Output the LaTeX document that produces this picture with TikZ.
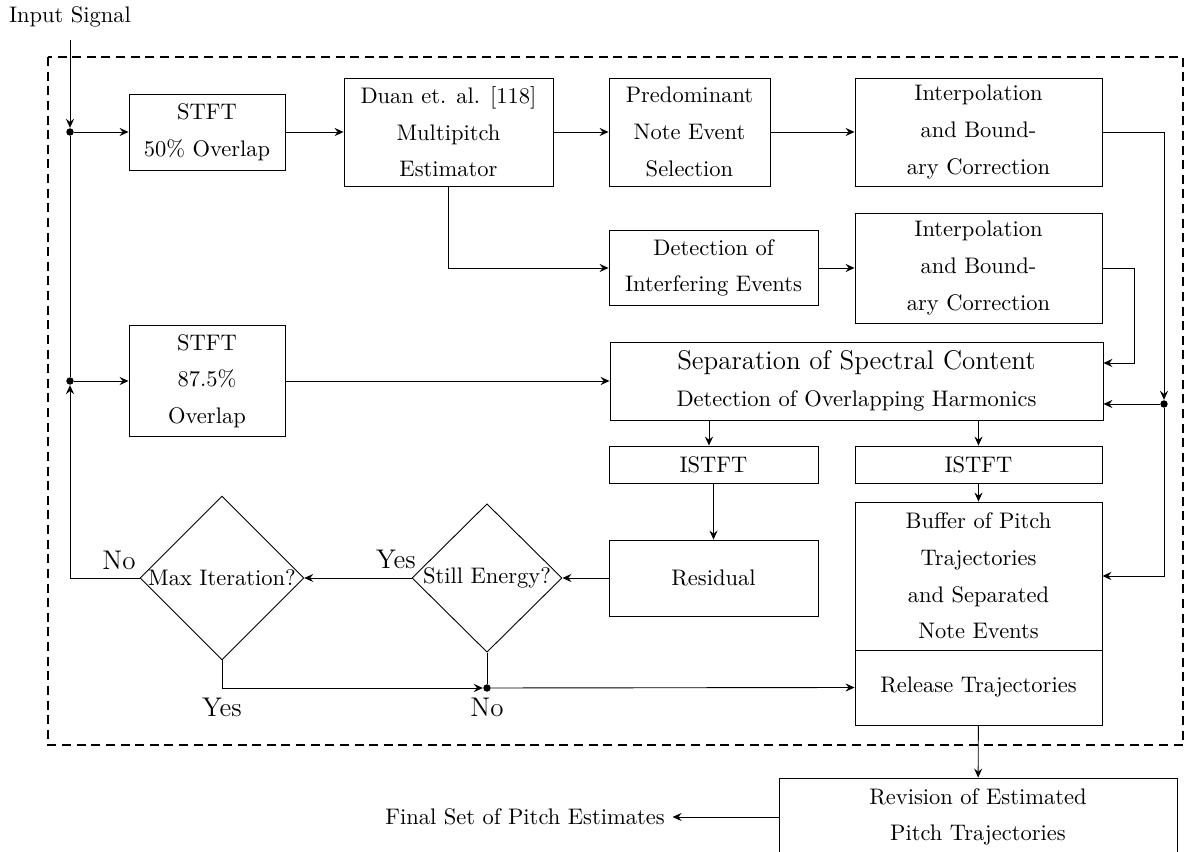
\documentclass[tikz,border=0pt]{standalone}
\usepackage{tikz}
\usetikzlibrary{arrows.meta,shapes.geometric,calc}
\newcommand{\pxu}{0.4444pt}

\begin{document}
\begin{tikzpicture}[
    x=\pxu, y=-\pxu,
    font={\fontsize{10}{16.3}\selectfont},
    box/.style={draw, align=center, inner sep=0pt},
    dec/.style={draw, diamond, aspect=1, inner sep=0pt, align=center},
    sz/.style 2 args={minimum width=#1*\pxu, minimum height=#2*\pxu},
    dot/.style={circle, fill, inner sep=0pt, minimum size=3.3pt},
    arr/.style={-{Stealth[length=4pt,width=3.6pt,inset=1.4pt]}},
    lbl/.style={font=\large}
  ]
  \useasboundingbox (0,0) rectangle (1186,852);

  \draw[line width=0.8pt, dash pattern=on 4pt off 2.5pt] (48,57) rectangle (1183,745);

  \node (insig) at (70,17) {Input Signal};
  \node[dot] (dot1) at (70,132) {};
  \node[dot] (dot2) at (70,381) {};
  \node[dot] (dot3) at (1164,404) {};
  \node[dot] (dot4) at (487,688) {};

  \node[box, sz={156}{76}] (stft1) at (207,132) {STFT\\50\% Overlap};
  \node[box, sz={209}{108}] (duan) at (448.5,132) {Duan et. al. [118]\\Multipitch\\Estimator};
  \node[box, sz={161}{108}] (pred) at (689.5,132) {Predominant\\Note Event\\Selection};
  \node[box, sz={247}{108}] (interp1) at (978.5,132) {Interpolation\\and Bound-\\ary Correction};
  \node[box, sz={209}{75}] (detect) at (713.5,268) {Detection of\\Interfering Events};
  \node[box, sz={247}{110}] (interp2) at (978.5,268) {Interpolation\\and Bound-\\ary Correction};
  \node[box, sz={156}{111}] (stft2) at (207,381) {STFT\\87.5\%\\Overlap};
  \node[box, sz={493}{78}] (sep) at (856.5,381) {{\large Separation of Spectral Content}\\Detection of Overlapping Harmonics};
  \node[box, sz={209}{37}] (istft1) at (713.5,464.5) {ISTFT};
  \node[box, sz={247}{37}] (istft2) at (978.5,464.5) {ISTFT};
  \node[box, sz={209}{76}] (resid) at (713.5,578) {Residual};
  \node[box, sz={247}{148}] (buffer) at (978.5,576) {Buffer of Pitch\\Trajectories\\and Separated\\Note Events};
  \node[box, sz={247}{75}] (release) at (978.5,687.5) {Release Trajectories};
  \node[box, sz={398}{78}] (revision) at (978,817) {Revision of Estimated\\Pitch Trajectories};
  \node[dec, sz={162}{161}] (maxit) at (222,578) {Max Iteration?};
  \node[dec, sz={150}{147}] (still) at (487,578) {Still Energy?};
  \node (final) at (525,817) {Final Set of Pitch Estimates};

  \node[lbl] (yes1) at (396,559) {Yes};
  \node[lbl] (no1) at (119,560) {No};
  \node[lbl] (yes2) at (222,707) {Yes};
  \node[lbl] (no2) at (487,707) {No};

  % main chain
  \draw[arr, shorten <=2pt] (insig.south) -- (dot1);
  \draw (dot1) -- (dot2);
  \draw[arr] (dot1) -- (stft1);
  \draw[arr] (stft1) -- (duan);
  \draw[arr] (duan) -- (pred);
  \draw[arr] (pred) -- (interp1);
  \draw[arr] (interp1.east) -| (dot3);
  \draw[arr] (duan.south) |- (detect.west);
  \draw[arr] (detect) -- (interp2);
  \draw[arr] (interp2.east) -- ++(32,0) |- ($(sep.east)+(0,-18)$);
  \draw[arr] (dot3) -- (dot3 -| sep.east);
  \draw[arr] (dot3) |- (buffer.east);
  \draw[arr] (dot2) -- (stft2);
  \draw[arr] (stft2) -- (sep);
  \draw[arr] ($(istft1.north |- sep.south)+(-4.5,0)$) -- ($(istft1.north)+(-4.5,0)$);
  \draw[arr] (istft2.north |- sep.south) -- (istft2.north);
  \draw[arr] (istft1) -- (resid);
  \draw[arr] (istft2) -- (buffer);

  % decisions
  \draw[arr] (resid) -- (still);
  \draw[arr] (still) -- (maxit);
  \draw[arr] (maxit.west) -| (dot2);
  \draw[arr] (maxit.south) |- (dot4);
  \draw (still.south) -- (dot4);
  \draw[arr] (dot4) -- (release.west);
  \draw[arr] (release) -- (revision);
  \draw[arr] (revision.west) -- (final.east);
\end{tikzpicture}
\end{document}
